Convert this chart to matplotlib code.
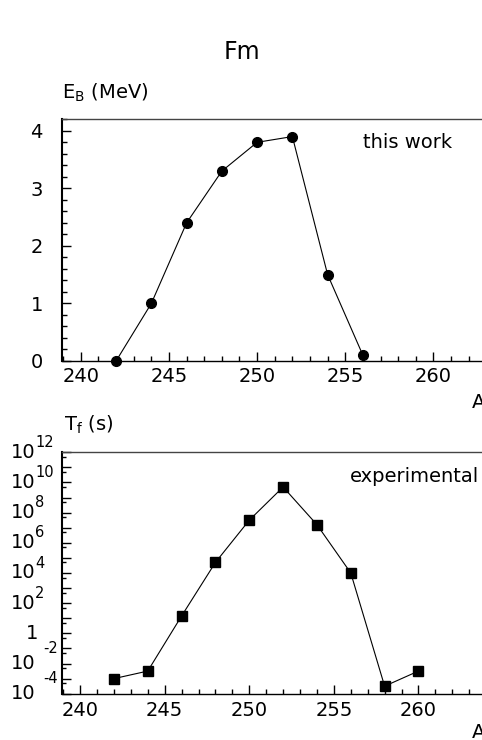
import numpy as np
import matplotlib.pyplot as plt
from matplotlib.ticker import MultipleLocator, FixedLocator, NullFormatter

# mass number A
a_eb = [242, 244, 246, 248, 250, 252, 254, 256]
eb = [0.0, 1.0, 2.4, 3.3, 3.8, 3.9, 1.5, 0.1]

a_tf = [242, 244, 246, 248, 250, 252, 254, 256, 258, 260]
log_tf = [-3.0, -2.5, 1.15, 4.7, 7.5, 9.7, 7.2, 4.0, -3.5, -2.5]

tf_exps = [12, 10, 8, 6, 4, 2, 0, -2, -4]

plt.rcParams['font.family'] = ['DejaVu Sans']
plt.rcParams['mathtext.default'] = 'regular'

W, H = 482, 740
fig = plt.figure(figsize=(W / 100, H / 100), dpi=100)


def px_axes(left, top, bottom, width):
    return fig.add_axes([left / W, (H - bottom) / H, width / W, (bottom - top) / H])


def style(ax):
    for s in ['top', 'right', 'bottom']:
        ax.spines[s].set_linewidth(1.0)
    ax.spines['left'].set_linewidth(1.5)
    ax.spines['top'].set_color('#444444')
    ax.tick_params(which='both', direction='in', top=False, right=False,
                   width=1.0, labelsize=14)
    ax.tick_params(which='major', length=6.5)
    ax.tick_params(which='minor', length=3.5)
    ax.tick_params(axis='x', pad=4.5)
    ax.xaxis.set_major_locator(MultipleLocator(5))
    ax.xaxis.set_minor_locator(MultipleLocator(1))


xmin = 238.95

# top panel: binding energy
ax1 = px_axes(62.3, 119.3, 361, (267 - xmin) * 17.63)
ax1.plot(a_eb, eb, color='black', lw=0.8, marker='o', ms=7, clip_on=False)
ax1.set_xlim(xmin, 267)
ax1.set_ylim(0, 4.2)
style(ax1)
ax1.yaxis.set_major_locator(MultipleLocator(1))
ax1.yaxis.set_minor_locator(MultipleLocator(0.2))
ax1.tick_params(axis='y', pad=14)
ax1.text(363 / W, (H - 142) / H, 'this work', transform=fig.transFigure,
         fontsize=14, va='center', ha='left')

# bottom panel: fission half-life
ax2 = px_axes(62.3, 452.3, 693.7, (267 - xmin) * 16.92)
ax2.plot(a_tf, [10.0 ** v for v in log_tf], color='black', lw=0.8,
         marker='s', ms=7, clip_on=False)
ax2.set_yscale('log')
ax2.set_xlim(xmin, 267)
ax2.set_ylim(1e-4, 1e12)
style(ax2)
ax2.yaxis.set_major_locator(FixedLocator([10.0 ** e for e in range(-4, 13)]))
ax2.yaxis.set_minor_locator(FixedLocator([5 * 10.0 ** e for e in range(-5, 12)]))
ax2.yaxis.set_major_formatter(NullFormatter())
ax2.yaxis.set_minor_formatter(NullFormatter())
ax2.tick_params(axis='y', which='minor', length=3)
ax2.tick_params(axis='x', pad=5)

for e in tf_exps:
    y = 10.0 ** e
    if e == 0:
        ax2.annotate('1', xy=(0, y), xycoords=('axes fraction', 'data'),
                     xytext=(-24, 0), textcoords='offset pixels',
                     ha='right', va='center', fontsize=14)
        continue
    ax2.annotate('10', xy=(0, y), xycoords=('axes fraction', 'data'),
                 xytext=(-27, 0), textcoords='offset pixels',
                 ha='right', va='center', fontsize=14)
    if e > 0:
        off = (-27, 10)
    else:
        off = (-19, 15)
    ax2.annotate(str(e), xy=(0, y), xycoords=('axes fraction', 'data'),
                 xytext=off, textcoords='offset pixels',
                 ha='left', va='center', fontsize=10.5)

ax2.text(350 / W, (H - 476) / H, 'experimental', transform=fig.transFigure,
         fontsize=14, va='center', ha='left')

# labels
fig.text(242 / W, (H - 52) / H, 'Fm', fontsize=17, ha='center', va='center')
fig.text(62 / W, (H - 93) / H, 'E$_{B}$ (MeV)', fontsize=14, ha='left', va='center')
fig.text(64 / W, (H - 425) / H, 'T$_{f}$ (s)', fontsize=14, ha='left', va='center')
fig.text(472 / W, (H - 402) / H, 'A', fontsize=14, ha='left', va='center')
fig.text(472 / W, (H - 732) / H, 'A', fontsize=14, ha='left', va='center')

fig.savefig('out.png', dpi=100)
